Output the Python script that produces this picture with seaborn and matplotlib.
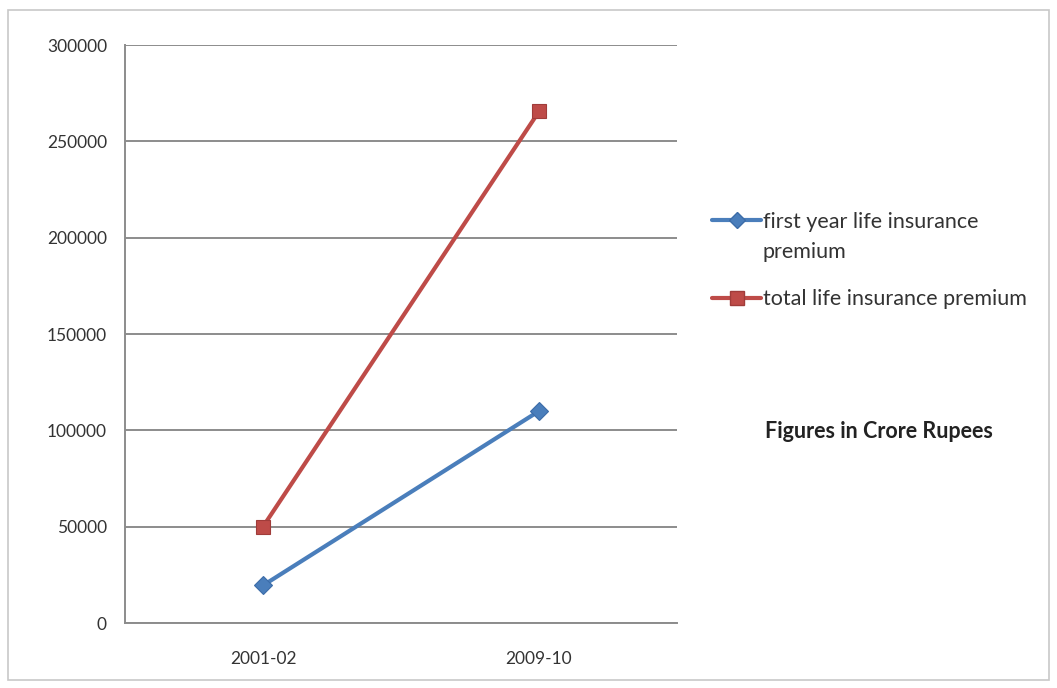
import matplotlib
matplotlib.use("Agg")
import matplotlib.pyplot as plt
import seaborn as sns
import pandas as pd
from matplotlib.patches import Rectangle
from matplotlib.transforms import Affine2D
from matplotlib.legend_handler import HandlerLine2D

years = ["2001-02", "2009-10"]
first_year_premium = [19500, 110000]
total_premium = [50000, 265500]
series_names = ["first year life insurance\npremium", "total life insurance premium"]
y_ticks = [0, 50000, 100000, 150000, 200000, 250000, 300000]

df = pd.DataFrame({
    "year": years * 2,
    "premium": first_year_premium + total_premium,
    "series": [series_names[0]] * 2 + [series_names[1]] * 2,
})

sns.set_style("white")
plt.rcParams["font.family"] = ["Lato", "DejaVu Sans"]

fig = plt.figure(figsize=(10.57, 6.88), dpi=100)
ax = fig.add_axes([125 / 1057, 1 - 623 / 688, (677 - 125) / 1057, (623 - 45) / 688])

palette = {series_names[0]: "#4a7ebb", series_names[1]: "#be4b48"}
edges = {series_names[0]: "#3c6ca8", series_names[1]: "#a03c3a"}
markers = {series_names[0]: "D", series_names[1]: "s"}
sns.lineplot(data=df, x="year", y="premium", hue="series", style="series",
             palette=palette, markers=markers, dashes=False, linewidth=3,
             markersize=10, markeredgewidth=0.8, ax=ax, legend=False, sort=False)
for line, name in zip(ax.lines, series_names):
    line.set_markeredgecolor(edges[name])
    if markers[name] == "D":
        line.set_markersize(9)

ax.set_xlim(-0.5, 1.5)
ax.set_ylim(0, 300000)
ax.set_yticks(y_ticks)
ax.set_yticklabels([str(v) for v in y_ticks], fontsize=12.5, color="#333333")
ax.set_xticks([0, 1])
ax.set_xticklabels(years, fontsize=12.5, color="#333333")
ax.set_xticks([-0.5, 0.5, 1.5], minor=True)
ax.tick_params(axis="x", which="major", length=0, pad=20)
ax.tick_params(axis="x", which="minor", length=6, width=1.2, color="#888888", direction="out")
ax.tick_params(axis="y", which="major", length=5, width=1.2, color="#888888", direction="out", pad=8)
ax.set_xlabel("")
ax.set_ylabel("")
ax.grid(axis="y", color="#8c8c8c", linewidth=1.4)
ax.grid(axis="x", visible=False)
ax.set_axisbelow(True)
for side in ["top", "right"]:
    ax.spines[side].set_visible(False)
for side in ["left", "bottom"]:
    ax.spines[side].set_color("#8c8c8c")
    ax.spines[side].set_linewidth(1.4)


class FirstLineHandler(HandlerLine2D):
    """Line handle raised so it sits beside the first line of a wrapped label."""

    def __init__(self, shift_pts, **kw):
        super().__init__(**kw)
        self.shift_pts = shift_pts

    def create_artists(self, legend, orig_handle, xdescent, ydescent, width,
                       height, fontsize, trans):
        artists = super().create_artists(legend, orig_handle, xdescent, ydescent,
                                         width, height, fontsize, trans)
        t = Affine2D().translate(0, self.shift_pts) + trans
        for a in artists:
            a.set_transform(t)
        return artists


handles = [plt.Line2D([], [], color=palette[n], marker=markers[n], linewidth=3,
                      markersize=8 if markers[n] == "D" else 10,
                      markeredgecolor=edges[n])
           for n in series_names]
leg = fig.legend(handles, series_names, loc="upper left",
                 bbox_to_anchor=(693 / 1057, 1 - 193 / 688), frameon=False,
                 fontsize=15.5, handlelength=2.25, handletextpad=0.1,
                 labelspacing=1.25, labelcolor="#333333",
                 handler_map={handles[0]: FirstLineHandler(12.5)})
for t in leg.get_texts():
    t.set_linespacing(1.62)

fig.text(765 / 1057, 1 - 432 / 688, "Figures in Crore Rupees", fontsize=15.5,
         fontweight="bold", color="#222222", va="center")

fig.patches.append(Rectangle((8 / 1057, 1 - 680 / 688), 1041 / 1057, 670 / 688,
                             transform=fig.transFigure, fill=False,
                             edgecolor="#c8c8c8", linewidth=1.2))

fig.savefig("out.png", dpi=100, facecolor="white")
